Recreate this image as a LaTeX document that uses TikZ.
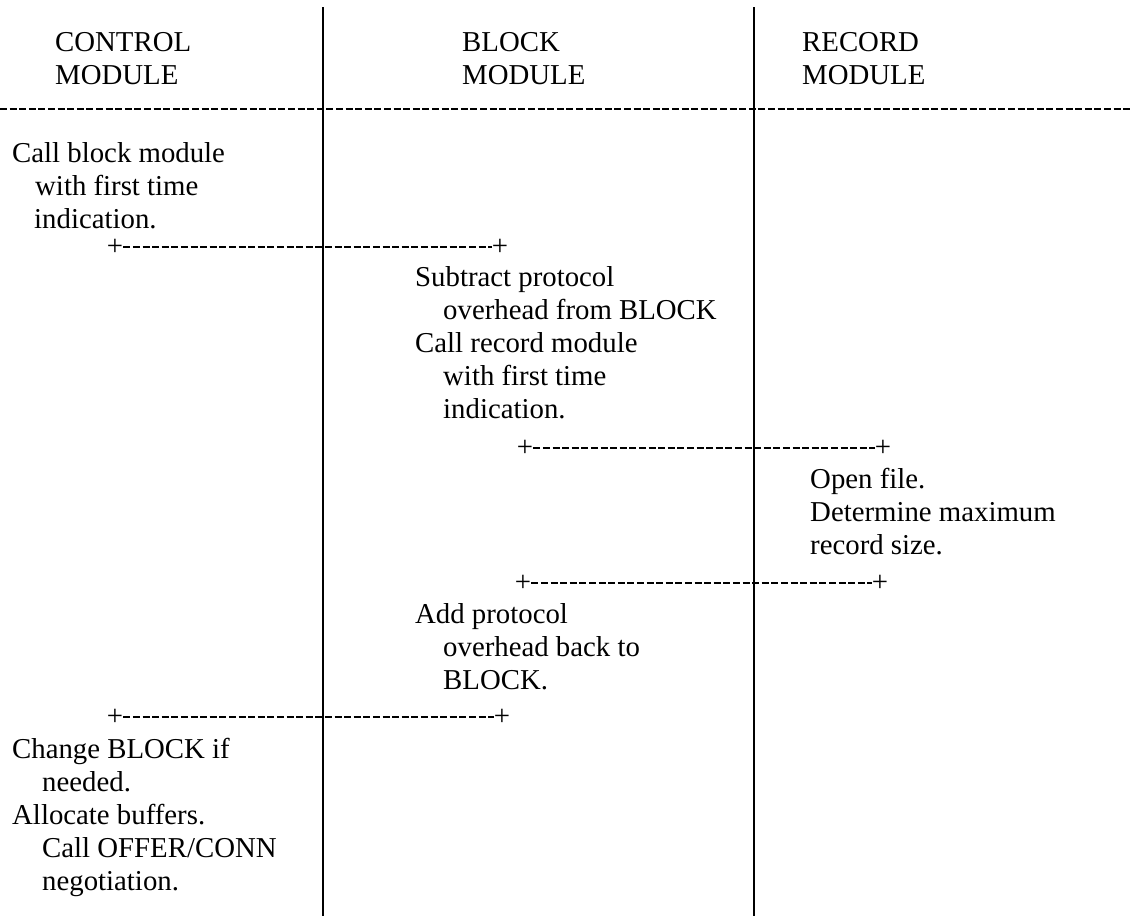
\documentclass[tikz,border=0pt]{standalone}
\usepackage{fontspec}
\setmainfont{Liberation Serif}
\usetikzlibrary{positioning}
\newcommand{\noteFont}{\fontsize{28.8}{33}\selectfont}
\tikzset{
    note/.style={anchor=north west, inner sep=0pt, align=left, font=\noteFont},
    cross/.style={inner sep=0pt, font=\noteFont},
    lane/.style={line width=2pt},
    callLink/.style={line width=1.1pt, dash pattern=on 7pt off 2.6pt},
}
\newcommand{\drawCall}[2]{
    \draw[callLink] (#1.east) -- (#2.west);
}
\begin{document}
\begin{tikzpicture}[x=1pt, y=-1pt]
    \useasboundingbox (0,0) rectangle (1130,916);

    % module lanes
    \coordinate (ctlTop) at (323,7);
    \coordinate (ctlBot) at (323,916);
    \coordinate (blkTop) at (754,7);
    \coordinate (blkBot) at (754,916);
    \draw[lane] (ctlTop) -- (ctlBot);
    \draw[lane] (blkTop) -- (blkBot);

    % headers
    \node[note] (hCtl) at (55,27.9) {\strut CONTROL\\MODULE};
    \node[note] (hBlk) at (462,27.9) {\strut BLOCK\\MODULE};
    \node[note] (hRec) at (802,27.9) {\strut RECORD\\MODULE};
    \coordinate (hdrL) at (0,109);
    \coordinate (hdrR) at (1130,109);
    \draw[callLink] (hdrL) -- (hdrR);

    % control module, first time
    \node[note] (ctlA) at (12,138.9) {\strut Call block module\\\hspace*{23pt}with first time\\\hspace*{22pt}indication.};
    \node[cross] (pA1) at (115,247) {+};
    \node[cross] (pA2) at (500,247) {+};
    \drawCall{pA1}{pA2}

    % block module
    \node[note] (blkA) at (415,262.9) {\strut Subtract protocol\\\hspace*{28pt}overhead from BLOCK\\Call record module\\\hspace*{28pt}with first time\\\hspace*{28pt}indication.};
    \node[cross] (pB1) at (525,448) {+};
    \node[cross] (pB2) at (883,448) {+};
    \drawCall{pB1}{pB2}

    % record module
    \node[note] (recA) at (810,464.9) {\strut Open file.\\Determine maximum\\record size.};
    \node[cross] (pC1) at (523,583) {+};
    \node[cross] (pC2) at (880,583) {+};
    \drawCall{pC1}{pC2}

    % block module, return
    \node[note] (blkB) at (415,599.9) {\strut Add protocol\\\hspace*{28pt}overhead back to\\\hspace*{28pt}BLOCK.};
    \node[cross] (pD1) at (115,717) {+};
    \node[cross] (pD2) at (502,717) {+};
    \drawCall{pD1}{pD2}

    % control module, after return
    \node[note] (ctlB) at (12,734.9) {\strut Change BLOCK if\\\hspace*{30pt}needed.\\Allocate buffers.\\\hspace*{30pt}Call OFFER/CONN\\\hspace*{30pt}negotiation.};

\end{tikzpicture}
\end{document}
